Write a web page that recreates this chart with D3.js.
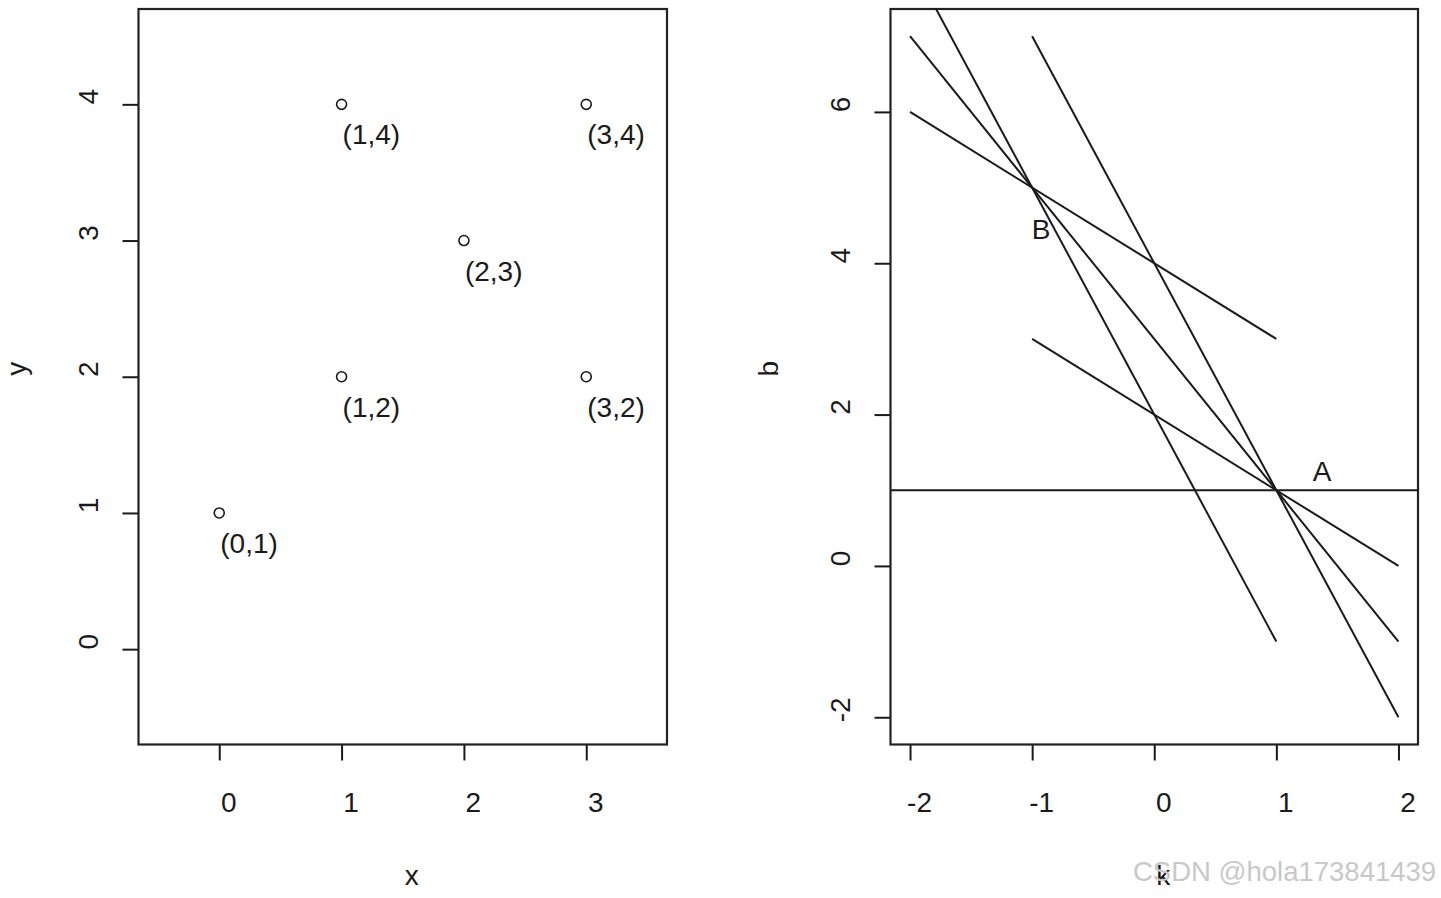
<!DOCTYPE html>
<html>
<head>
<meta charset="utf-8">
<script src="https://cdn.jsdelivr.net/npm/d3@7"></script>
<style>
  html, body { margin: 0; padding: 0; background: #fff; }
  svg { display: block; }
  text { font-family: "Liberation Sans", Arial, Helvetica, sans-serif; fill: #1a1a1a; }
</style>
</head>
<body>
<svg id="chart" width="1441" height="898"></svg>
<script>
// points (x, y) in the left panel, each one becomes a line b = -x*k + y on the right
var pointX = [0, 1, 1, 2, 3, 3];
var pointY = [1, 2, 4, 3, 2, 4];
var pointLabels = ["(0,1)", "(1,2)", "(1,4)", "(2,3)", "(3,2)", "(3,4)"];

// k range each line is drawn over (null = whole plot width)
var lineKFrom = [null, -1, -2, -2, -2, -1];
var lineKTo   = [null,  2,  1,  2,  1,  2];

var leftTicksX = [0, 1, 2, 3];
var leftTicksY = [0, 1, 2, 3, 4];
var rightTicksX = [-2, -1, 0, 1, 2];
var rightTicksY = [-2, 0, 2, 4, 6];

var markNames = ["A", "B"];
var markK = [1.3, -1.0];
var markB = [1.25, 4.45];

var svg = d3.select("#chart");
var ink = "#1a1a1a";
var plotTop = 9, plotBottom = 744.5;
var tickLen = 16;

function panel(x0, x1, xDomain, yDomain, xTicks, yTicks, xTitle, yTitle, id) {
    var x = d3.scaleLinear().domain(xDomain).range([x0, x1]);
    var y = d3.scaleLinear().domain(yDomain).range([plotBottom, plotTop]);
    var g = svg.append("g");

    var xAxis = g.append("g")
        .attr("transform", "translate(0," + plotBottom + ")")
        .call(d3.axisBottom(x).tickValues(xTicks).tickSize(tickLen).tickSizeOuter(0));
    xAxis.select(".domain").remove();
    xAxis.selectAll(".tick line").attr("stroke", ink).attr("stroke-width", 2);
    xAxis.selectAll(".tick text")
        .attr("y", 67.5).attr("dy", 0).attr("dx", 9)
        .style("font-size", "28px").attr("fill", ink)
        .text(function(d) { return String(d); });

    var yAxis = g.append("g")
        .attr("transform", "translate(" + x0 + ",0)")
        .call(d3.axisLeft(y).tickValues(yTicks).tickSize(tickLen).tickSizeOuter(0));
    yAxis.select(".domain").remove();
    yAxis.selectAll(".tick line").attr("stroke", ink).attr("stroke-width", 2);
    yAxis.selectAll(".tick text")
        .attr("x", 0).attr("y", 0).attr("dy", 0)
        .attr("text-anchor", "middle")
        .attr("transform", "translate(-41,-8) rotate(-90)")
        .style("font-size", "28px").attr("fill", ink)
        .text(function(d) { return String(d); });

    // box
    g.append("rect")
        .attr("x", x0).attr("y", plotTop)
        .attr("width", x1 - x0).attr("height", plotBottom - plotTop)
        .attr("fill", "none").attr("stroke", "#222").attr("stroke-width", 2.2);

    g.append("text")
        .attr("x", (x0 + x1) / 2 + 9).attr("y", plotBottom + 140.5)
        .attr("text-anchor", "middle").style("font-size", "28px")
        .text(xTitle);

    g.append("text")
        .attr("text-anchor", "middle").style("font-size", "28px")
        .attr("transform", "translate(" + (x0 - 112.5) + "," + ((plotTop + plotBottom) / 2 - 8) + ") rotate(-90)")
        .text(yTitle);

    svg.append("clipPath").attr("id", id)
        .append("rect").attr("x", x0).attr("y", plotTop)
        .attr("width", x1 - x0).attr("height", plotBottom - plotTop);

    return { x: x, y: y, g: g };
}

// left panel: the points
var L = panel(138.5, 667, [-0.66, 3.66], [-0.7, 4.7], leftTicksX, leftTicksY, "x", "y", "clipL");

L.g.selectAll("circle.pt")
    .data(pointX)
    .enter().append("circle")
    .attr("class", "pt")
    .attr("cx", function(d) { return L.x(d); })
    .attr("cy", function(d, i) { return L.y(pointY[i]); })
    .attr("r", 5)
    .attr("fill", "none")
    .attr("stroke", ink)
    .attr("stroke-width", 1.6);

L.g.selectAll("text.lab")
    .data(pointLabels)
    .enter().append("text")
    .attr("class", "lab")
    .attr("x", function(d, i) { return L.x(pointX[i]) + 1; })
    .attr("y", function(d, i) { return L.y(pointY[i]) + 40; })
    .style("font-size", "28px")
    .text(function(d) { return d; });

// right panel: one line per point in (k, b) space
var R = panel(890.5, 1418, [-2.16, 2.16], [-2.36, 7.36], rightTicksX, rightTicksY, "k", "b", "clipR");

var kDomain = R.x.domain();
R.g.append("g")
    .attr("clip-path", "url(#clipR)")
    .selectAll("line")
    .data(pointX)
    .enter().append("line")
    .attr("x1", function(d, i) { return R.x(lineKFrom[i] === null ? kDomain[0] : lineKFrom[i]); })
    .attr("x2", function(d, i) { return R.x(lineKTo[i] === null ? kDomain[1] : lineKTo[i]); })
    .attr("y1", function(d, i) {
        var k = lineKFrom[i] === null ? kDomain[0] : lineKFrom[i];
        return R.y(-d * k + pointY[i]);
    })
    .attr("y2", function(d, i) {
        var k = lineKTo[i] === null ? kDomain[1] : lineKTo[i];
        return R.y(-d * k + pointY[i]);
    })
    .attr("stroke", ink)
    .attr("stroke-width", 2);

R.g.selectAll("text.mark")
    .data(markNames)
    .enter().append("text")
    .attr("class", "mark")
    .attr("x", function(d, i) { return R.x(markK[i]); })
    .attr("y", function(d, i) { return R.y(markB[i]); })
    .attr("dx", 9)
    .attr("dy", "0.35em")
    .attr("text-anchor", "middle")
    .style("font-size", "28px")
    .text(function(d) { return d; });

// watermark
svg.append("text")
    .attr("x", 1133).attr("y", 881)
    .style("font-size", "27.5px")
    .style("fill", "#c8c8c8")
    .text("CSDN @hola173841439");
</script>
</body>
</html>
